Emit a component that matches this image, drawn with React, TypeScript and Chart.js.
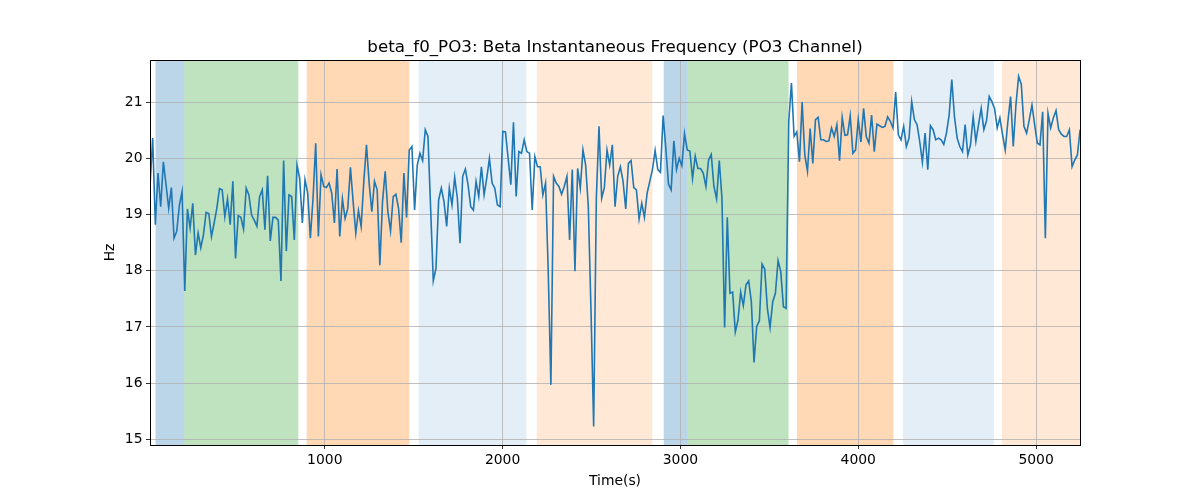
import React, { useEffect, useRef } from "react";
import { Chart, registerables } from "chart.js";

Chart.register(...registerables);

const TITLE = "beta_f0_PO3: Beta Instantaneous Frequency (PO3 Channel)";
const X_LABEL = "Time(s)";
const Y_LABEL = "Hz";
const X_TICKS = [1000, 2000, 3000, 4000, 5000];
const Y_TICKS = [15, 16, 17, 18, 19, 20, 21];
const X_MIN = 17;
const X_MAX = 5247;
const Y_MIN = 14.9;
const Y_MAX = 21.75;
const T0 = 17;
const DT = 15.03;

const FREQ_A = [
  19.5, 20.36, 18.82, 19.74, 19.14, 19.94, 19.53, 19.11, 19.48, 18.58, 18.7, 19.17, 19.41, 17.64, 19.1, 18.76,
  19.2, 18.28, 18.67, 18.41, 18.64, 19.04, 19.02, 18.61, 18.85, 19.11, 19.46, 19.44, 18.96, 19.28, 18.82, 19.59,
  18.22, 18.98, 18.95, 18.74, 19.47, 19.35, 18.99, 18.9, 18.79, 19.32, 19.44, 18.73, 19.69, 18.53, 18.95, 18.95,
  18.9, 17.82, 19.96, 18.35, 19.35, 19.32, 18.55, 19.88, 19.65, 18.85,
];
const FREQ_B = [
  19.62, 19.38, 18.58, 19.29, 20.27, 18.61, 19.71, 19.5, 19.48, 19.56, 19.38, 18.85, 19.81, 18.61, 19.28, 18.93,
  19.11, 19.84, 19.23, 18.67, 19.07, 18.79, 19.59, 20.24, 19.56, 19.05, 19.59, 19.44, 18.1, 19.23, 19.77, 19.05,
  18.71, 19.32, 19.36, 19.11, 18.5, 19.74, 18.95, 20.15, 20.21, 19.08, 19.88, 20.09, 19.96, 20.51, 20.39, 19.11,
  17.82, 18.04, 19.26, 19.47, 19.23, 18.79, 19.47, 19.17, 19.66, 19.29,
];
const FREQ_C = [
  18.49, 19.68, 19.81, 19.53, 19.14, 19.08, 19.59, 19.32, 19.85, 19.35, 19.65, 20.0, 19.56, 19.47, 19.17, 19.14,
  20.48, 20.47, 20.0, 19.53, 20.64, 19.32, 20.12, 20.09, 20.33, 20.12, 20.09, 19.08, 20.03, 19.85, 19.85, 19.35,
  19.56, 18.0, 15.97, 19.68, 19.56, 19.5, 19.36, 19.5, 19.68, 18.55, 19.8, 17.99, 19.82, 19.47, 20.15, 19.88,
  19.14, 17.3, 15.23, 19.29, 20.57, 19.29, 19.48, 20.15, 19.88, 20.24,
];
const FREQ_D = [
  19.14, 19.68, 19.85, 19.59, 19.1, 19.91, 19.96, 19.48, 19.44, 18.92, 19.2, 18.95, 19.38, 19.59, 19.8, 20.14,
  19.8, 19.75, 20.76, 20.18, 19.54, 19.44, 20.31, 19.8, 20.0, 19.87, 20.44, 20.15, 20.13, 19.64, 20.04, 19.82,
  19.82, 19.74, 19.5, 19.97, 20.07, 19.5, 19.28, 19.96, 19.29, 16.99, 18.95, 17.6, 17.62, 16.91, 17.12, 17.62,
  17.38, 17.75, 17.82, 17.45, 16.37, 17.01, 17.11, 18.12, 18.03, 17.33,
];
const FREQ_E = [
  16.99, 17.45, 17.6, 18.18, 17.99, 17.36, 17.33, 20.66, 21.34, 20.39, 20.47, 19.94, 21.0, 20.06, 19.77, 20.53,
  19.91, 20.69, 20.73, 20.33, 20.33, 20.3, 20.31, 20.54, 20.39, 20.6, 19.96, 20.73, 20.41, 20.42, 20.76, 20.09,
  20.15, 20.69, 20.29, 20.89, 20.39, 20.27, 20.77, 20.12, 20.61, 20.58, 20.55, 20.57, 20.74, 20.66, 20.54, 21.18,
  20.42, 20.33, 20.57, 20.21, 20.36, 21.01, 20.69, 20.6, 20.3, 19.93, 20.45,
];
const FREQ_F = [
  19.8, 20.58, 20.51, 20.33, 20.36, 20.33, 20.25, 20.45, 20.77, 21.4, 20.74, 20.36, 20.21, 20.12, 20.6, 20.06,
  20.24, 20.74, 20.3, 20.6, 20.89, 20.51, 20.67, 21.1, 21.01, 20.89, 20.54, 20.72, 20.42, 20.15, 20.66, 21.1,
  20.21, 20.95, 21.46, 21.32, 20.57, 20.45, 20.69, 20.95, 20.6, 20.27, 20.24, 20.83, 18.58, 20.8, 20.54, 20.72,
  20.85, 20.51, 20.43, 20.39, 20.39, 20.51, 19.85, 19.97, 20.06, 20.51,
];
const FREQ = [...FREQ_A, ...FREQ_B, ...FREQ_C, ...FREQ_D, ...FREQ_E, ...FREQ_F];

const SPAN_START = [48, 210, 898, 1528, 2192, 2906, 3037, 3655, 4251, 4808];
const SPAN_END = [210, 851, 1475, 2134, 2842, 3037, 3608, 4198, 4763, 5247];
const SPAN_KIND = ["blue", "green", "orange", "lightblue", "lightorange", "blue", "green", "orange", "lightblue", "lightorange"];

const SPAN_COLORS: Record<string, string> = {
  blue: "rgba(31,119,180,0.3)",
  green: "rgba(44,160,44,0.3)",
  orange: "rgba(255,127,14,0.3)",
  lightblue: "rgba(31,119,180,0.12)",
  lightorange: "rgba(255,127,14,0.17)",
};

const FONT = "'DejaVu Sans', sans-serif";

const spansPlugin = {
  id: "spans",
  beforeDraw(chart: any) {
    const { ctx, chartArea } = chart;
    const xs = chart.scales.x;
    ctx.save();
    ctx.beginPath();
    ctx.rect(chartArea.left, chartArea.top, chartArea.right - chartArea.left, chartArea.bottom - chartArea.top);
    ctx.clip();
    for (let i = 0; i < SPAN_START.length; i++) {
      const x0 = xs.getPixelForValue(SPAN_START[i]);
      const x1 = xs.getPixelForValue(SPAN_END[i]);
      ctx.fillStyle = SPAN_COLORS[SPAN_KIND[i]];
      ctx.fillRect(x0, chartArea.top, x1 - x0, chartArea.bottom - chartArea.top);
    }
    ctx.restore();
  },
  afterDraw(chart: any) {
    const { ctx, chartArea } = chart;
    ctx.save();
    ctx.strokeStyle = "#000";
    ctx.lineWidth = 1;
    ctx.strokeRect(
      Math.round(chartArea.left) + 0.5,
      Math.round(chartArea.top) + 0.5,
      Math.round(chartArea.right - chartArea.left),
      Math.round(chartArea.bottom - chartArea.top)
    );
    ctx.fillStyle = "#000";
    ctx.font = `16.7px ${FONT}`;
    ctx.textAlign = "center";
    ctx.textBaseline = "alphabetic";
    ctx.fillText(TITLE, (chartArea.left + chartArea.right) / 2, chartArea.top - 8.5);
    ctx.restore();
  },
};

export default function App() {
  const ref = useRef<HTMLCanvasElement>(null);
  useEffect(() => {
    if (!ref.current) return;
    const points = FREQ.map((v, i) => ({ x: T0 + i * DT, y: v }));
    const chart = new Chart(ref.current, {
      type: "line",
      data: {
        datasets: [
          {
            data: points,
            borderColor: "#1f77b4",
            borderWidth: 1.6,
            pointRadius: 0,
            tension: 0,
            fill: false,
          },
        ],
      },
      options: {
        responsive: false,
        animation: false,
        devicePixelRatio: 1,
        layout: { padding: { left: 96, right: 120, top: 60, bottom: 0 } },
        plugins: { legend: { display: false }, tooltip: { enabled: false }, title: { display: false } },
        scales: {
          x: {
            type: "linear",
            min: X_MIN,
            max: X_MAX,
            afterBuildTicks: (s: any) => {
              s.ticks = X_TICKS.map((v) => ({ value: v }));
            },
            afterFit: (s: any) => {
              s.height = 55;
            },
            grid: { color: "#b0b0b0", lineWidth: 0.8, tickColor: "#000", tickLength: 4, drawTicks: true },
            border: { display: false },
            ticks: {
              autoSkip: false,
              maxRotation: 0,
              padding: 3.5,
              color: "#000",
              font: { family: FONT, size: 13.9 },
              callback: (v: any) => String(v),
            },
            title: {
              display: true,
              text: X_LABEL,
              color: "#000",
              font: { family: FONT, size: 13.9 },
              padding: { top: 0, bottom: 10.5 },
            },
          },
          y: {
            type: "linear",
            min: Y_MIN,
            max: Y_MAX,
            afterBuildTicks: (s: any) => {
              s.ticks = Y_TICKS.map((v) => ({ value: v }));
            },
            afterFit: (s: any) => {
              s.width = 54;
            },
            grid: { color: "#b0b0b0", lineWidth: 0.8, tickColor: "#000", tickLength: 4, drawTicks: true },
            border: { display: false },
            ticks: {
              autoSkip: false,
              padding: 3.5,
              color: "#000",
              font: { family: FONT, size: 13.9 },
              callback: (v: any) => String(v),
            },
            title: {
              display: true,
              text: Y_LABEL,
              color: "#000",
              font: { family: FONT, size: 13.9 },
              padding: { top: 6, bottom: 0 },
            },
          },
        },
      },
      plugins: [spansPlugin],
    });
    return () => chart.destroy();
  }, []);
  return (
    <div style={{ position: "absolute", left: 0, top: 0, width: 1200, height: 500, background: "#fff" }}>
      <canvas ref={ref} width={1200} height={500} style={{ display: "block" }} />
    </div>
  );
}
